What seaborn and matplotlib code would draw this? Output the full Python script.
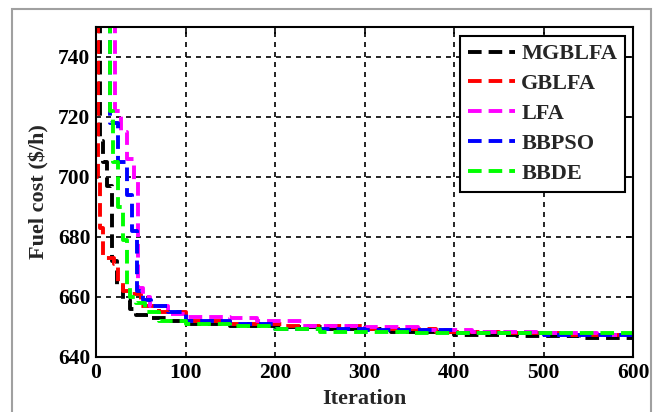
import matplotlib
matplotlib.use("Agg")
import matplotlib.pyplot as plt
import seaborn as sns
import pandas as pd
from matplotlib.patches import Rectangle

names = ["MGBLFA", "GBLFA", "LFA", "BBPSO", "BBDE"]
colors = ["#000000", "#ff0000", "#ff00ff", "#0000ff", "#00ff00"]

mg_x = [0, 5, 8, 12, 18, 24, 30, 38, 45, 60, 80, 100, 150, 200, 260, 330, 400, 470, 540, 600]
mg_y = [760, 712, 705, 697, 672, 664, 659, 656, 654, 653, 652, 651, 650.5, 650, 649.5, 648.5, 647.5, 647, 646.5, 646.5]

gb_x = [0, 2, 5, 8, 20, 25, 30, 40, 50, 70, 100, 150, 210, 300, 380, 450, 520, 600]
gb_y = [760, 700, 683, 673, 671, 665, 662, 661, 657, 655, 652, 651, 650.5, 649.5, 648.5, 648, 647.5, 647]

lfa_x = [0, 21, 28, 35, 42, 47, 52, 60, 80, 100, 150, 180, 230, 300, 360, 420, 500, 560, 600]
lfa_y = [760, 722, 715, 706, 699, 663, 660, 657, 654.5, 653.5, 653, 652, 650.5, 650, 649, 648.5, 648, 647.5, 647.5]

pso_x = [0, 16, 25, 35, 40, 46, 52, 62, 80, 100, 150, 200, 300, 400, 500, 600]
pso_y = [760, 718, 705, 694, 682, 662, 659, 657, 655, 652, 651, 649.5, 649, 648, 647.5, 647]

de_x = [0, 16, 19, 25, 30, 35, 38, 45, 55, 70, 100, 150, 200, 250, 350, 450, 600]
de_y = [760, 722, 705, 690, 679, 663, 660, 658, 655, 652, 651, 650.5, 649.5, 648.5, 648, 648, 647.5]

series = [(mg_x, mg_y), (gb_x, gb_y), (lfa_x, lfa_y), (pso_x, pso_y), (de_x, de_y)]

xticks = [0, 100, 200, 300, 400, 500, 600]
yticks = [640, 660, 680, 700, 720, 740]

sns.set_style("white")
plt.rcParams['font.family'] = ['Liberation Serif', 'DejaVu Serif']
plt.rcParams['font.weight'] = 'bold'

fig = plt.figure(figsize=(6.62, 4.12), dpi=100)
ax = fig.add_axes([96/662, 1-357/412, (633-96)/662, (357-27)/412])

for name, col, (xs, ys) in zip(names, colors, series):
    df = pd.DataFrame({"Iteration": xs, "cost": ys})
    sns.lineplot(data=df, x="Iteration", y="cost", ax=ax, color=col, label=name,
                 drawstyle="steps-post", linewidth=2.8, estimator=None, sort=False)
for ln in ax.lines:
    ln.set_dashes([3.5, 1.8])

ax.set_xlim(0, 600)
ax.set_ylim(640, 750)
ax.set_xticks(xticks)
ax.set_yticks(yticks)
ax.tick_params(axis='both', direction='in', length=5, width=1.2, labelsize=15.5,
               top=True, right=True, colors='black', pad=4)
for lab in ax.get_xticklabels() + ax.get_yticklabels():
    lab.set_fontweight('bold')
ax.grid(True, color='black', linestyle=(0, (3, 3)), linewidth=1.2)
for sp in ax.spines.values():
    sp.set_color('black')
    sp.set_linewidth(1.5)
ax.set_xlabel("Iteration", fontsize=16, fontweight='bold', labelpad=5)
ax.set_ylabel("Fuel cost ($/h)", fontsize=16, fontweight='bold', labelpad=6)

leg = ax.legend(loc='upper right', bbox_to_anchor=(1 - 8/537, 1 - 9/330), borderaxespad=0,
                prop={'family': 'Liberation Serif', 'weight': 'bold', 'size': 16},
                frameon=True, fancybox=False, edgecolor='black', framealpha=1,
                handlelength=2.1, labelspacing=0.42, handletextpad=0.3, borderpad=0.35)
leg.get_frame().set_linewidth(1.5)
for h in leg.get_lines():
    h.set_linewidth(2.8)
    h.set_dashes([3.5, 1.8])

fig.patches.append(Rectangle((12/662, -0.05), (651-12)/662, 1.05 - 9/412,
                             transform=fig.transFigure, fill=False,
                             edgecolor='#a0a0a0', linewidth=1.5))

fig.savefig("out.png", dpi=100)
